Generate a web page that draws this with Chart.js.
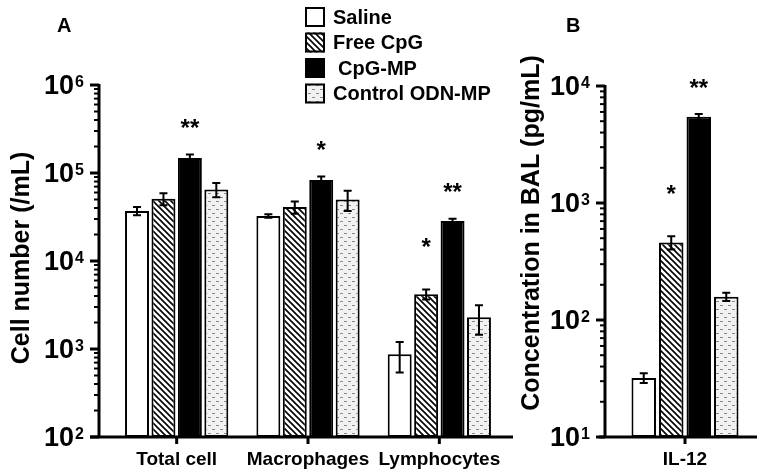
<!DOCTYPE html>
<html>
<head>
<meta charset="utf-8">
<script src="https://cdn.jsdelivr.net/npm/chart.js@4.4.1/dist/chart.umd.min.js"></script>
<style>
  body { margin: 0; background: #fff; }
  #wrap { position: relative; width: 764px; height: 476px; }
  canvas { position: absolute; top: 0; }
</style>
</head>
<body>
<div id="wrap">
  <canvas id="cellChart" width="520" height="476" style="left:0"></canvas>
  <canvas id="il12Chart" width="244" height="476" style="left:520px"></canvas>
</div>
<script>
// ---- data ----
const groups = ["Saline", "Free CpG", "CpG-MP", "Control ODN-MP"];

// panel A: cell counts in BAL (/mL)
const cellLabels = ["Total cell", "Macrophages", "Lymphocytes"];
const cellSaline = [37000, 32500, 870];
const cellSalineErr = [4000, 1500, 330];
const cellFree = [51000, 41000, 4200];
const cellFreeErr = [8000, 6500, 550];
const cellCpgMP = [148000, 83000, 28500];
const cellCpgMPErr = [14000, 8000, 1800];
const cellControl = [65000, 50000, 2300];
const cellControlErr = [12000, 13000, 850];
const cellSig = [["", "", ""], ["", "", "*"], ["**", "*", "**"], ["", "", ""]];

// panel B: IL-12 in BAL (pg/mL)
const il12Labels = ["IL-12"];
const il12 = [32, 460, 5450, 158];
const il12Err = [3, 60, 300, 13];
const il12Sig = ["", "*", "**", ""];

const FONT = "'Liberation Sans', Arial, sans-serif";

// ---- fill patterns ----
function hatchPattern() {
  const c = document.createElement("canvas");
  c.width = 6; c.height = 6;
  const g = c.getContext("2d");
  g.fillStyle = "#fff"; g.fillRect(0, 0, 6, 6);
  g.strokeStyle = "#000"; g.lineWidth = 1.6;
  g.beginPath();
  g.moveTo(-1, -1); g.lineTo(7, 7);
  g.moveTo(-1, 5); g.lineTo(1, 7);
  g.moveTo(5, -1); g.lineTo(7, 1);
  g.stroke();
  return g.createPattern(c, "repeat");
}
function dashPattern() {
  const c = document.createElement("canvas");
  c.width = 8; c.height = 8;
  const g = c.getContext("2d");
  g.fillStyle = "#f2f2f2"; g.fillRect(0, 0, 8, 8);
  g.fillStyle = "#8a8a8a";
  g.fillRect(0, 1, 3, 1);
  g.fillRect(4, 5, 3, 1);
  return g.createPattern(c, "repeat");
}
const fills = ["#fff", hatchPattern(), "#000", dashPattern()];
const sigLift = [30, 47, 31, 30];

function makeDatasets(values, errs, sigs, base) {
  return groups.map((name, gi) => ({
    label: name,
    data: values[gi],
    err: errs[gi],
    sig: sigs[gi],
    backgroundColor: fills[gi],
    borderColor: "#000",
    borderWidth: 2,
    borderSkipped: false,
    base: base
  }));
}

function decor(cfg) {
  return {
    id: "decor",
    afterDatasetsDraw(chart) {
      const ctx = chart.ctx;
      const xs = chart.scales.x, ys = chart.scales.y, a = chart.chartArea;
      ctx.save();
      ctx.strokeStyle = "#000";
      ctx.fillStyle = "#000";
      // error bars and significance marks
      chart.data.datasets.forEach((ds, di) => {
        chart.getDatasetMeta(di).data.forEach((bar, i) => {
          const v = ds.data[i], e = ds.err[i];
          const top = ys.getPixelForValue(v + e);
          const bot = ys.getPixelForValue(Math.max(v - e, ys.min));
          ctx.lineWidth = 2;
          ctx.beginPath();
          ctx.moveTo(bar.x, top); ctx.lineTo(bar.x, bot);
          ctx.moveTo(bar.x - 4, top); ctx.lineTo(bar.x + 4, top);
          ctx.moveTo(bar.x - 4, bot); ctx.lineTo(bar.x + 4, bot);
          ctx.stroke();
          if (ds.sig[i]) {
            ctx.font = "bold 24px " + FONT;
            ctx.textAlign = "center";
            ctx.textBaseline = "middle";
            ctx.fillText(ds.sig[i], bar.x, top - sigLift[di] + 6);
          }
        });
      });
      // axes
      const ax = cfg.axisX;
      ctx.lineWidth = 3;
      ctx.beginPath();
      ctx.moveTo(ax, a.top - 1); ctx.lineTo(ax, a.bottom);
      ctx.moveTo(cfg.xFrom, a.bottom); ctx.lineTo(cfg.xTo, a.bottom);
      ctx.stroke();
      // y ticks: decades and 2..9 minors
      const lo = Math.round(Math.log10(ys.min)), hi = Math.round(Math.log10(ys.max));
      for (let d = lo; d <= hi; d++) {
        const py = ys.getPixelForValue(Math.pow(10, d));
        ctx.lineWidth = 3;
        ctx.beginPath(); ctx.moveTo(ax - 9, py); ctx.lineTo(ax, py); ctx.stroke();
        ctx.font = "bold 27px " + FONT;
        ctx.textAlign = "right"; ctx.textBaseline = "middle";
        ctx.fillText("10", ax - 25, py + 2);
        ctx.font = "bold 16px " + FONT;
        ctx.textAlign = "left"; ctx.textBaseline = "top";
        ctx.fillText(String(d), ax - 24, py - 10);
        if (d === hi) continue;
        ctx.lineWidth = 2;
        for (let m = 2; m <= 9; m++) {
          const my = ys.getPixelForValue(m * Math.pow(10, d));
          ctx.beginPath(); ctx.moveTo(ax - 5, my); ctx.lineTo(ax, my); ctx.stroke();
        }
      }
      // category ticks and labels
      chart.data.labels.forEach((lab, i) => {
        const px = xs.getPixelForValue(i);
        ctx.lineWidth = 3;
        ctx.beginPath(); ctx.moveTo(px, a.bottom); ctx.lineTo(px, a.bottom + 7); ctx.stroke();
        ctx.font = "bold 19px " + FONT;
        ctx.textAlign = "center"; ctx.textBaseline = "middle";
        ctx.fillText(lab, px, a.bottom + 23);
      });
      // axis title
      ctx.save();
      ctx.translate(cfg.titleX, cfg.titleY);
      ctx.rotate(-Math.PI / 2);
      ctx.font = "bold 25px " + FONT;
      ctx.textAlign = "center"; ctx.textBaseline = "middle";
      ctx.fillText(cfg.title, 0, 0);
      ctx.restore();
      // panel letter
      ctx.font = "bold 20px " + FONT;
      ctx.textAlign = "left"; ctx.textBaseline = "middle";
      ctx.fillText(cfg.letter, cfg.letterX, 26);
      // legend
      if (cfg.legend) {
        groups.forEach((name, gi) => {
          const ly = 7 + gi * 25.5;
          ctx.fillStyle = fills[gi];
          ctx.fillRect(305, ly, 20, 20);
          ctx.lineWidth = 2;
          ctx.strokeStyle = "#000";
          ctx.strokeRect(306, ly + 1, 18, 18);
          ctx.fillStyle = "#000";
          ctx.font = "bold 20px " + FONT;
          ctx.textAlign = "left"; ctx.textBaseline = "middle";
          ctx.fillText(name, gi === 2 ? 338 : 333, ly + 11);
        });
      }
      ctx.restore();
    }
  };
}

function makeChart(id, labels, datasets, yMin, yMax, pad, pct, cfg) {
  return new Chart(document.getElementById(id), {
    type: "bar",
    data: { labels: labels, datasets: datasets },
    options: {
      responsive: false,
      animation: false,
      devicePixelRatio: 1,
      layout: { padding: pad },
      datasets: { bar: { categoryPercentage: pct[0], barPercentage: pct[1] } },
      plugins: { legend: { display: false }, tooltip: { enabled: false } },
      scales: {
        x: { type: "category", display: false, offset: true },
        y: { type: "logarithmic", display: false, min: yMin, max: yMax }
      }
    },
    plugins: [decor(cfg)]
  });
}

const cellSets = makeDatasets(
  [cellSaline, cellFree, cellCpgMP, cellControl],
  [cellSalineErr, cellFreeErr, cellCpgMPErr, cellControlErr],
  cellSig, 100
);

const il12Sets = makeDatasets(
  il12.map(v => [v]),
  il12Err.map(v => [v]),
  il12Sig.map(s => [s]), 10
);

makeChart("cellChart", cellLabels, cellSets, 100, 1e6,
  { left: 111, right: 15, top: 85, bottom: 39 }, [0.805, 0.906],
  { axisX: 99, xFrom: 90, xTo: 513, title: "Cell number (/mL)", titleX: 22, titleY: 258, letter: "A", letterX: 57, legend: true });

makeChart("il12Chart", il12Labels, il12Sets, 10, 1e4,
  { left: 105, right: 19, top: 86, bottom: 39 }, [0.917, 0.89],
  { axisX: 85, xFrom: 79, xTo: 237, title: "Concentration in BAL (pg/mL)", titleX: 12, titleY: 233, letter: "B", letterX: 46, legend: false });
</script>
</body>
</html>
